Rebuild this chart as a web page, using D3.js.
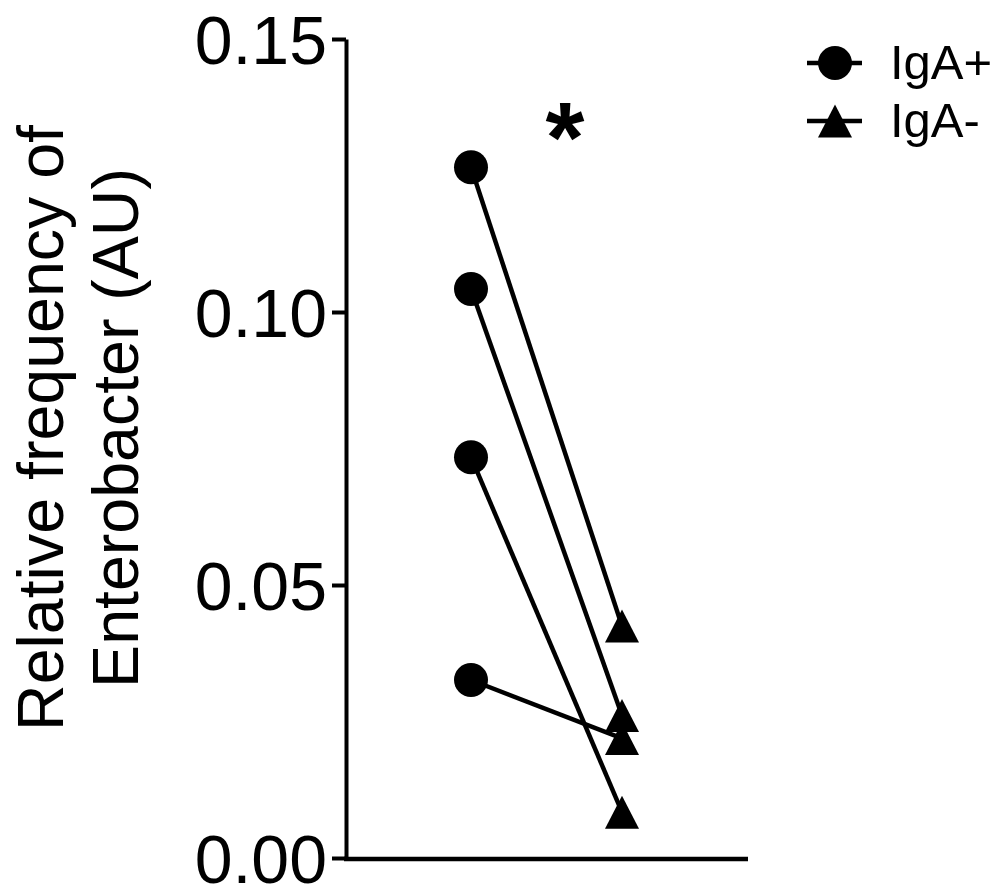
<!DOCTYPE html>
<html>
<head>
<meta charset="utf-8">
<script src="https://cdn.jsdelivr.net/npm/d3@7"></script>
<style>
  body { margin: 0; background: #fff; }
  svg text { font-family: "Liberation Sans", Arial, sans-serif; fill: #000; }
</style>
</head>
<body>
<svg id="chart"></svg>
<script>
var WIDTH = 1002;
var HEIGHT = 888;

// data
var groups = ['IgA+', 'IgA-'];
var igaPlus = [0.1265, 0.1042, 0.0734, 0.0326];
var igaMinus = [0.0425, 0.0261, 0.0084, 0.0219]; // paired with igaPlus by index
var yTicks = [0, 0.05, 0.10, 0.15];
var yTitle = ['Relative frequency of', 'Enterobacter (AU)'];
var significance = '*';

var svg = d3.select('#chart')
  .attr('width', WIDTH)
  .attr('height', HEIGHT);

var yScale = d3.scaleLinear()
  .domain([0, 0.15])
  .range([858, 39]);

var xScale = d3.scalePoint()
  .domain(groups)
  .range([471, 622]);

// triangle centred on its bounding box, like Prism draws it
var triangle = {
  draw: function(ctx, size) {
    var w = Math.sqrt(size);
    var h = w * 0.97;
    ctx.moveTo(0, -h / 2);
    ctx.lineTo(w / 2, h / 2);
    ctx.lineTo(-w / 2, h / 2);
    ctx.closePath();
  }
};
var markerSize = 34 * 34;

// y axis
var leftAxis = d3.axisLeft(yScale)
  .tickValues(yTicks)
  .tickFormat(d3.format('.2f'))
  .tickSize(14)
  .tickSizeOuter(0)
  .tickPadding(5);

var yAxisG = svg.append('g')
  .attr('id', 'y-axis')
  .attr('transform', 'translate(346,0)')
  .call(leftAxis);
yAxisG.select('.domain').attr('stroke', '#000').attr('stroke-width', 4);
yAxisG.selectAll('.tick line').attr('stroke', '#000').attr('stroke-width', 4);
yAxisG.selectAll('.tick text')
  .style('font-size', '68px')
  .attr('fill', '#000')
  .attr('dy', '0.36em');

// x axis: plain baseline, no ticks
svg.append('line')
  .attr('x1', 344).attr('x2', 748)
  .attr('y1', yScale(0) + 1).attr('y2', yScale(0) + 1)
  .attr('stroke', '#000')
  .attr('stroke-width', 4.5);

// y title
svg.append('text')
  .attr('transform', 'translate(63,428) rotate(-90)')
  .attr('text-anchor', 'middle')
  .style('font-size', '64.5px')
  .text(yTitle[0]);
svg.append('text')
  .attr('transform', 'translate(138,428) rotate(-90)')
  .attr('text-anchor', 'middle')
  .style('font-size', '64.5px')
  .text(yTitle[1]);

// paired lines
var pairs = igaPlus.map(function(v, i) { return [v, igaMinus[i]]; });
svg.append('g').selectAll('line')
  .data(pairs)
  .enter().append('line')
  .attr('x1', xScale(groups[0]))
  .attr('x2', xScale(groups[1]))
  .attr('y1', function(d) { return yScale(d[0]); })
  .attr('y2', function(d) { return yScale(d[1]); })
  .attr('stroke', '#000')
  .attr('stroke-width', 4.5);

// points
svg.append('g').selectAll('circle')
  .data(igaPlus)
  .enter().append('circle')
  .attr('cx', xScale(groups[0]))
  .attr('cy', function(d) { return yScale(d); })
  .attr('r', 17)
  .attr('fill', '#000');

svg.append('g').selectAll('path')
  .data(igaMinus)
  .enter().append('path')
  .attr('d', d3.symbol().type(triangle).size(markerSize))
  .attr('transform', function(d) {
    return 'translate(' + xScale(groups[1]) + ',' + yScale(d) + ')';
  })
  .attr('fill', '#000');

// significance star
svg.append('text')
  .attr('x', 565)
  .attr('y', 172)
  .attr('text-anchor', 'middle')
  .style('font-size', '100px')
  .style('font-weight', 'bold')
  .text(significance);

// legend
var legend = svg.append('g').attr('transform', 'translate(807,0)');
var legendRows = [63, 121];
legend.selectAll('line')
  .data(groups)
  .enter().append('line')
  .attr('x1', 0).attr('x2', 55)
  .attr('y1', function(d, i) { return legendRows[i]; })
  .attr('y2', function(d, i) { return legendRows[i]; })
  .attr('stroke', '#000')
  .attr('stroke-width', 4.5);
legend.append('circle')
  .attr('cx', 28).attr('cy', legendRows[0])
  .attr('r', 17)
  .attr('fill', '#000');
legend.append('path')
  .attr('d', d3.symbol().type(triangle).size(markerSize))
  .attr('transform', 'translate(28,' + legendRows[1] + ')')
  .attr('fill', '#000');
legend.selectAll('text')
  .data(groups)
  .enter().append('text')
  .attr('x', 83)
  .attr('y', function(d, i) { return legendRows[i] + 16; })
  .style('font-size', '49px')
  .text(function(d) { return d; });
</script>
</body>
</html>
